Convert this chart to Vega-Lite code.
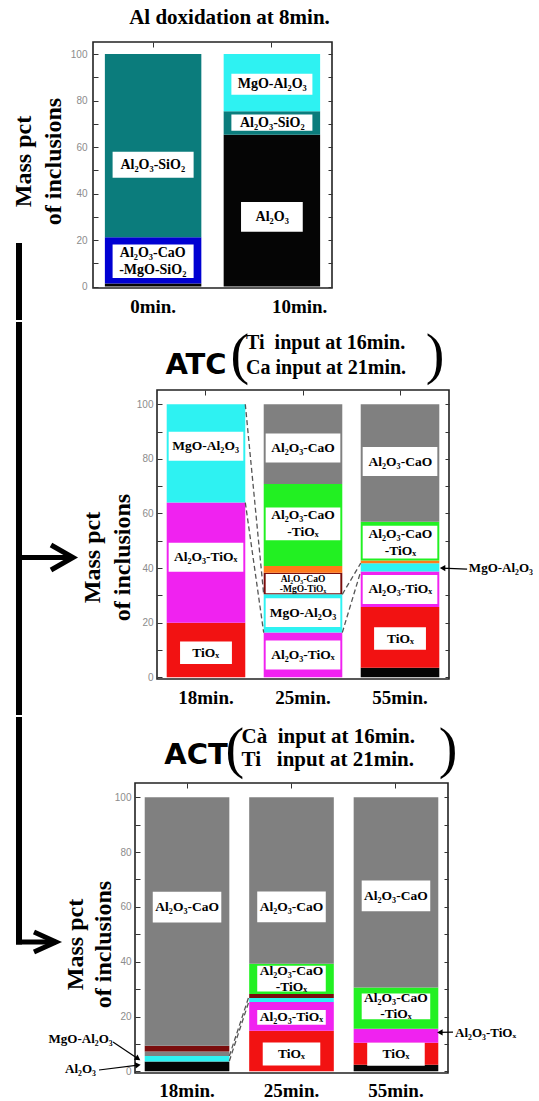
{
 "$schema": "https://vega.github.io/schema/vega-lite/v6.json",
 "padding": {"left": 9, "top": 5, "right": 0, "bottom": 0},
 "spacing": 0,
 "config": {"view": {"stroke": "#222", "strokeWidth": 1.6}},
 "data": {"values": [{}]},
 "datasets": {
  "p1_bars": [
   {"time": "0min.", "phase": "Al2O3", "lo": 0, "hi": 1.3},
   {"time": "0min.", "phase": "Al2O3-CaO-MgO-SiO2", "lo": 1.3, "hi": 21.2},
   {"time": "0min.", "phase": "Al2O3-SiO2", "lo": 21.2, "hi": 100},
   {"time": "10min.", "phase": "Al2O3", "lo": 0, "hi": 65.3},
   {"time": "10min.", "phase": "Al2O3-SiO2", "lo": 65.3, "hi": 75.4},
   {"time": "10min.", "phase": "MgO-Al2O3", "lo": 75.4, "hi": 100}
  ],
  "p1_labels": [
   {"time": "0min.", "label": "Al₂O₃-SiO₂", "y": 52.4},
   {"time": "0min.", "label": "Al₂O₃-CaO\n-MgO-SiO₂", "y": 10.9},
   {"time": "10min.", "label": "MgO-Al₂O₃", "y": 87},
   {"time": "10min.", "label": "Al₂O₃-SiO₂", "y": 70.5},
   {"time": "10min.", "label": "Al₂O₃", "y": 30}
  ],
  "p2_bars": [
   {"time": "18min.", "phase": "TiOx", "lo": 0, "hi": 20},
   {"time": "18min.", "phase": "Al2O3-TiOx", "lo": 20, "hi": 64},
   {"time": "18min.", "phase": "MgO-Al2O3", "lo": 64, "hi": 100},
   {"time": "25min.", "phase": "Al2O3-TiOx", "lo": 0, "hi": 16.4},
   {"time": "25min.", "phase": "MgO-Al2O3", "lo": 16.4, "hi": 30.4},
   {"time": "25min.", "phase": "Al2O3-CaO-MgO-TiOx", "lo": 30.4, "hi": 38.3},
   {"time": "25min.", "phase": "Other", "lo": 38.3, "hi": 40.8},
   {"time": "25min.", "phase": "Al2O3-CaO-TiOx", "lo": 40.8, "hi": 70.8},
   {"time": "25min.", "phase": "Al2O3-CaO", "lo": 70.8, "hi": 100},
   {"time": "55min.", "phase": "Al2O3", "lo": 0, "hi": 3.5},
   {"time": "55min.", "phase": "TiOx", "lo": 3.5, "hi": 25.8},
   {"time": "55min.", "phase": "Al2O3-TiOx", "lo": 25.8, "hi": 38.8},
   {"time": "55min.", "phase": "MgO-Al2O3", "lo": 38.8, "hi": 41.8},
   {"time": "55min.", "phase": "Other", "lo": 41.8, "hi": 42.8},
   {"time": "55min.", "phase": "Al2O3-CaO-TiOx", "lo": 42.8, "hi": 57},
   {"time": "55min.", "phase": "Al2O3-CaO", "lo": 57, "hi": 100}
  ],
  "p2_labels": [
   {"time": "18min.", "label": "MgO-Al₂O₃", "y": 84.6},
   {"time": "18min.", "label": "Al₂O₃-TiOₓ", "y": 44},
   {"time": "18min.", "label": "TiOₓ", "y": 9},
   {"time": "25min.", "label": "Al₂O₃-CaO", "y": 84},
   {"time": "25min.", "label": "Al₂O₃-CaO\n-TiOₓ", "y": 56.2},
   {"time": "25min.", "label": "Al₂O₃-CaO\n-MgO-TiOₓ", "y": 34.3},
   {"time": "25min.", "label": "MgO-Al₂O₃", "y": 23.7},
   {"time": "25min.", "label": "Al₂O₃-TiOₓ", "y": 8.2},
   {"time": "55min.", "label": "Al₂O₃-CaO", "y": 79},
   {"time": "55min.", "label": "Al₂O₃-CaO\n-TiOₓ", "y": 49.5},
   {"time": "55min.", "label": "Al₂O₃-TiOₓ", "y": 32.2},
   {"time": "55min.", "label": "TiOₓ", "y": 14.2}
  ],
  "p3_bars": [
   {"time": "18min.", "phase": "Al2O3", "lo": 0, "hi": 3.6},
   {"time": "18min.", "phase": "MgO-Al2O3", "lo": 3.6, "hi": 5.6},
   {"time": "18min.", "phase": "Al2O3-CaO", "lo": 5.6, "hi": 7.2},
   {"time": "18min.", "phase": "Al2O3-CaO-MgO-TiOx", "lo": 7.2, "hi": 9.3},
   {"time": "18min.", "phase": "Al2O3-CaO", "lo": 9.3, "hi": 100},
   {"time": "25min.", "phase": "TiOx", "lo": 0, "hi": 14.8},
   {"time": "25min.", "phase": "Al2O3-TiOx", "lo": 14.8, "hi": 25.3},
   {"time": "25min.", "phase": "MgO-Al2O3", "lo": 25.3, "hi": 26.8},
   {"time": "25min.", "phase": "Al2O3-CaO-MgO-TiOx", "lo": 26.8, "hi": 28.2},
   {"time": "25min.", "phase": "Al2O3-CaO-TiOx", "lo": 28.2, "hi": 39.3},
   {"time": "25min.", "phase": "Al2O3-CaO", "lo": 39.3, "hi": 100},
   {"time": "55min.", "phase": "Al2O3", "lo": 0, "hi": 2.4},
   {"time": "55min.", "phase": "TiOx", "lo": 2.4, "hi": 10.4},
   {"time": "55min.", "phase": "Al2O3-TiOx", "lo": 10.4, "hi": 15.5},
   {"time": "55min.", "phase": "Al2O3-CaO-TiOx", "lo": 15.5, "hi": 30.6},
   {"time": "55min.", "phase": "Al2O3-CaO", "lo": 30.6, "hi": 100}
  ],
  "p3_labels": [
   {"time": "18min.", "label": "Al₂O₃-CaO", "y": 59.9},
   {"time": "25min.", "label": "Al₂O₃-CaO", "y": 60},
   {"time": "25min.", "label": "Al₂O₃-CaO\n-TiOₓ", "y": 33.8},
   {"time": "25min.", "label": "Al₂O₃-TiOₓ", "y": 19.7},
   {"time": "25min.", "label": "TiOₓ", "y": 6.3},
   {"time": "55min.", "label": "Al₂O₃-CaO", "y": 64},
   {"time": "55min.", "label": "Al₂O₃-CaO\n-TiOₓ", "y": 23.7},
   {"time": "55min.", "label": "TiOₓ", "y": 6.2}
  ]
 },
 "vconcat": [
  {
   "spacing": 0,
   "hconcat": [
    {"width": 1, "height": 1, "mark": {"type": "text", "text": ""}, "view": {"stroke": null}},
    {
     "title": {"text": "Al doxidation at 8min.", "font": "Liberation Serif", "fontSize": 21, "fontWeight": "bold", "color": "#000", "anchor": "middle", "frame": "group", "dx": 17, "offset": 14},
     "width": 239, "height": 246,
     "resolve": {"scale": {"x": "independent"}, "axis": {"x": "independent", "y": "independent"}},
     "layer": [
      {
       "data": {"name": "p1_bars"},
       "mark": {"type": "bar"},
       "encoding": {
        "x": {"field": "time", "type": "nominal", "scale": {"domain": ["0min.", "10min."], "paddingInner": 0.188, "paddingOuter": 0.1},
         "axis": {"orient": "bottom", "title": null, "labelAngle": 0, "labelFont": "Liberation Serif", "labelFontSize": 19, "labelFontWeight": "bold", "labelColor": "#000", "ticks": false, "domain": false, "labelPadding": 9, "labelAlign": {"condition": {"test": "datum.value == '10min.'", "value": "left"}, "value": "center"}}},
        "y": {"field": "lo", "type": "quantitative", "scale": {"domain": [-0.6, 105.2], "nice": false, "zero": false},
         "axis": {"orient": "left", "values": [0, 10, 20, 30, 40, 50, 60, 70, 80, 90, 100], "labelExpr": "datum.value % 20 == 0 ? datum.label : ''", "title": ["Mass pct", "of inclusions"], "titleFont": "Liberation Serif", "titleFontSize": 24, "titleFontWeight": "bold", "titleColor": "#000", "titleLineHeight": 30, "titleAngle": 270, "titleBaseline": "bottom", "titleAlign": "center", "titleX": -58, "titleY": 119, "labelFont": "Liberation Sans", "labelFontSize": 10, "labelColor": "#8c8c8c", "tickSize": -5, "tickColor": "#333", "labelPadding": 11, "domain": false, "grid": false}},
        "y2": {"field": "hi"},
        "color": {"field": "phase", "type": "nominal", "legend": null, "scale": {"domain": ["Al2O3", "Al2O3-SiO2", "Al2O3-CaO-MgO-SiO2", "MgO-Al2O3", "TiOx", "Al2O3-TiOx", "Al2O3-CaO", "Al2O3-CaO-TiOx", "Al2O3-CaO-MgO-TiOx", "Other"], "range": ["#050505", "#0b7c7c", "#0000d2", "#2ef2f2", "#f21212", "#f022f0", "#808080", "#22f022", "#7a0c0c", "#ff7a1a"]}}
       }
      },
      {
       "data": {"name": "p1_labels"},
       "transform": [
        {"filter": "datum.label != 'Al₂O₃'"},
        {"calculate": "indexof(datum.label, '\\n') >= 0 ? 7.2 : (datum.label == 'MgO-Al₂O₃' ? 4.5 : (datum.time == '0min.' ? 5.6 : 3.5))", "as": "half"},
        {"calculate": "datum.y - datum.half", "as": "blo"},
        {"calculate": "datum.y + datum.half", "as": "bhi"}
       ],
       "mark": {"type": "bar", "color": "#fff", "width": {"band": 0.84}},
       "encoding": {
        "x": {"field": "time", "type": "nominal", "scale": {"domain": ["0min.", "10min."], "paddingInner": 0.188, "paddingOuter": 0.1},
         "axis": {"orient": "top", "title": null, "labels": false, "ticks": true, "tickSize": -5, "tickColor": "#333", "domain": false, "grid": false}},
        "y": {"field": "blo", "type": "quantitative", "scale": {"domain": [-0.6, 105.2], "nice": false, "zero": false},
         "axis": {"orient": "right", "title": null, "labels": false, "values": [0, 10, 20, 30, 40, 50, 60, 70, 80, 90, 100], "tickSize": -4, "tickColor": "#333", "domain": false, "grid": false}},
        "y2": {"field": "bhi"}
       }
      },
      {
       "data": {"name": "p1_labels"},
       "transform": [
        {"filter": "datum.label == 'Al₂O₃'"},
        {"calculate": "datum.y - 6.4", "as": "blo"},
        {"calculate": "datum.y + 6.4", "as": "bhi"}
       ],
       "mark": {"type": "bar", "color": "#fff", "width": {"band": 0.64}},
       "encoding": {
        "x": {"field": "time", "type": "nominal", "scale": {"domain": ["0min.", "10min."], "paddingInner": 0.188, "paddingOuter": 0.1}, "axis": null},
        "y": {"field": "blo", "type": "quantitative", "scale": {"domain": [-0.6, 105.2], "nice": false, "zero": false}, "axis": null},
        "y2": {"field": "bhi"}
       }
      },
      {
       "data": {"name": "p1_labels"},
       "transform": [{"filter": "indexof(datum.label, '\\n') < 0"}],
       "mark": {"type": "text", "font": "Liberation Serif", "fontSize": 14, "fontWeight": "bold", "color": "#000", "align": "center", "baseline": "middle"},
       "encoding": {
        "x": {"field": "time", "type": "nominal", "scale": {"domain": ["0min.", "10min."], "paddingInner": 0.188, "paddingOuter": 0.1}, "axis": null},
        "y": {"field": "y", "type": "quantitative", "scale": {"domain": [-0.6, 105.2], "nice": false, "zero": false}, "axis": null},
        "text": {"field": "label"}
       }
      },
      {
       "data": {"name": "p1_labels"},
       "transform": [{"filter": "indexof(datum.label, '\\n') >= 0"}],
       "mark": {"type": "text", "font": "Liberation Serif", "fontSize": 14, "fontWeight": "bold", "color": "#000", "align": "center", "baseline": "middle", "lineBreak": "\n", "lineHeight": 17, "dy": -8.5},
       "encoding": {
        "x": {"field": "time", "type": "nominal", "scale": {"domain": ["0min.", "10min."], "paddingInner": 0.188, "paddingOuter": 0.1}, "axis": null},
        "y": {"field": "y", "type": "quantitative", "scale": {"domain": [-0.6, 105.2], "nice": false, "zero": false}, "axis": null},
        "text": {"field": "label"}
       }
      },
      {
       "mark": {"type": "rect", "color": "#000"},
       "encoding": {
        "x": {"datum": -0.3222, "type": "quantitative", "scale": {"domain": [0, 1]}, "axis": null},
        "x2": {"datum": -0.2971},
        "y": {"datum": 18.75, "type": "quantitative", "scale": {"domain": [-0.6, 105.2], "nice": false, "zero": false}, "axis": null},
        "y2": {"datum": -14.36}
       }
      }
     ]
    }
   ]
  },
  {
   "spacing": 0,
   "hconcat": [
    {"width": 6, "height": 1, "mark": {"type": "text", "text": ""}, "view": {"stroke": null}},
    {
     "width": 292, "height": 289,
     "resolve": {"scale": {"x": "independent"}, "axis": {"x": "independent", "y": "independent"}},
     "layer": [
      {
       "data": {"name": "p2_bars"},
       "mark": {"type": "bar"},
       "encoding": {
        "x": {"field": "time", "type": "nominal", "scale": {"domain": ["18min.", "25min.", "55min."], "paddingInner": 0.19, "paddingOuter": 0.1},
         "axis": {"orient": "bottom", "title": null, "labelAngle": 0, "labelFont": "Liberation Serif", "labelFontSize": 19, "labelFontWeight": "bold", "labelColor": "#000", "ticks": false, "domain": false, "labelPadding": 9}},
        "y": {"field": "lo", "type": "quantitative", "scale": {"domain": [-0.6, 105.2], "nice": false, "zero": false},
         "axis": {"orient": "left", "values": [0, 10, 20, 30, 40, 50, 60, 70, 80, 90, 100], "labelExpr": "datum.value % 20 == 0 ? datum.label : ''", "title": ["Mass pct", "of inclusions"], "titleFont": "Liberation Serif", "titleFontSize": 24, "titleFontWeight": "bold", "titleColor": "#000", "titleLineHeight": 30, "titleAngle": 270, "titleBaseline": "bottom", "titleAlign": "center", "titleX": -53, "titleY": 167, "labelFont": "Liberation Sans", "labelFontSize": 10, "labelColor": "#8c8c8c", "tickSize": -5, "tickColor": "#333", "labelPadding": 9, "domain": false, "grid": false}},
        "y2": {"field": "hi"},
        "color": {"field": "phase", "type": "nominal", "legend": null, "scale": {"domain": ["Al2O3", "Al2O3-SiO2", "Al2O3-CaO-MgO-SiO2", "MgO-Al2O3", "TiOx", "Al2O3-TiOx", "Al2O3-CaO", "Al2O3-CaO-TiOx", "Al2O3-CaO-MgO-TiOx", "Other"], "range": ["#050505", "#0b7c7c", "#0000d2", "#2ef2f2", "#f21212", "#f022f0", "#808080", "#22f022", "#7a0c0c", "#ff7a1a"]}}
       }
      },
      {
       "data": {"name": "p2_labels"},
       "transform": [
        {"filter": "datum.label != 'TiOₓ'"},
        {"calculate": "datum.label == 'Al₂O₃-CaO\\n-MgO-TiOₓ' ? 3.5 : (indexof(datum.label, '\\n') >= 0 ? 6.0 : 5.3)", "as": "half"},
        {"calculate": "datum.y - datum.half", "as": "blo"},
        {"calculate": "datum.y + datum.half", "as": "bhi"}
       ],
       "mark": {"type": "bar", "color": "#fff", "width": {"band": 0.95}},
       "encoding": {
        "x": {"field": "time", "type": "nominal", "scale": {"domain": ["18min.", "25min.", "55min."], "paddingInner": 0.19, "paddingOuter": 0.1},
         "axis": {"orient": "top", "title": null, "labels": false, "ticks": true, "tickSize": -5, "tickColor": "#333", "domain": false, "grid": false}},
        "y": {"field": "blo", "type": "quantitative", "scale": {"domain": [-0.6, 105.2], "nice": false, "zero": false},
         "axis": {"orient": "right", "title": null, "labels": false, "values": [0, 10, 20, 30, 40, 50, 60, 70, 80, 90, 100], "tickSize": -4, "tickColor": "#333", "domain": false, "grid": false}},
        "y2": {"field": "bhi"}
       }
      },
      {
       "data": {"name": "p2_labels"},
       "transform": [
        {"filter": "datum.label == 'TiOₓ'"},
        {"calculate": "datum.y - 4.1", "as": "blo"},
        {"calculate": "datum.y + 4.1", "as": "bhi"}
       ],
       "mark": {"type": "bar", "color": "#fff", "width": {"band": 0.66}},
       "encoding": {
        "x": {"field": "time", "type": "nominal", "scale": {"domain": ["18min.", "25min.", "55min."], "paddingInner": 0.19, "paddingOuter": 0.1}, "axis": null},
        "y": {"field": "blo", "type": "quantitative", "scale": {"domain": [-0.6, 105.2], "nice": false, "zero": false}, "axis": null},
        "y2": {"field": "bhi"}
       }
      },
      {
       "data": {"name": "p2_labels"},
       "transform": [{"filter": "indexof(datum.label, '\\n') < 0"}],
       "mark": {"type": "text", "font": "Liberation Serif", "fontSize": 13.5, "fontWeight": "bold", "color": "#000", "align": "center", "baseline": "middle"},
       "encoding": {
        "x": {"field": "time", "type": "nominal", "scale": {"domain": ["18min.", "25min.", "55min."], "paddingInner": 0.19, "paddingOuter": 0.1}, "axis": null},
        "y": {"field": "y", "type": "quantitative", "scale": {"domain": [-0.6, 105.2], "nice": false, "zero": false}, "axis": null},
        "text": {"field": "label"}
       }
      },
      {
       "data": {"name": "p2_labels"},
       "transform": [{"filter": "indexof(datum.label, '\\n') >= 0 && datum.label != 'Al₂O₃-CaO\\n-MgO-TiOₓ'"}],
       "mark": {"type": "text", "font": "Liberation Serif", "fontSize": 13.5, "fontWeight": "bold", "color": "#000", "align": "center", "baseline": "middle", "lineBreak": "\n", "lineHeight": 17, "dy": -8.5},
       "encoding": {
        "x": {"field": "time", "type": "nominal", "scale": {"domain": ["18min.", "25min.", "55min."], "paddingInner": 0.19, "paddingOuter": 0.1}, "axis": null},
        "y": {"field": "y", "type": "quantitative", "scale": {"domain": [-0.6, 105.2], "nice": false, "zero": false}, "axis": null},
        "text": {"field": "label"}
       }
      },
      {
       "data": {"name": "p2_labels"},
       "transform": [{"filter": "datum.label == 'Al₂O₃-CaO\\n-MgO-TiOₓ'"}],
       "mark": {"type": "text", "font": "Liberation Serif", "fontSize": 9.5, "fontWeight": "bold", "color": "#000", "align": "center", "baseline": "middle", "lineBreak": "\n", "lineHeight": 10, "dy": -5},
       "encoding": {
        "x": {"field": "time", "type": "nominal", "scale": {"domain": ["18min.", "25min.", "55min."], "paddingInner": 0.19, "paddingOuter": 0.1}, "axis": null},
        "y": {"field": "y", "type": "quantitative", "scale": {"domain": [-0.6, 105.2], "nice": false, "zero": false}, "axis": null},
        "text": {"field": "label"}
       }
      },
      {
       "mark": {"type": "rect", "color": "#000"},
       "encoding": {
        "x": {"datum": -0.4829, "type": "quantitative", "scale": {"domain": [0, 1]}, "axis": null},
        "x2": {"datum": -0.4623},
        "y": {"datum": 130.09, "type": "quantitative", "scale": {"domain": [-0.6, 105.2], "nice": false, "zero": false}, "axis": null},
        "y2": {"datum": -13.78}
       }
      },
      {
       "mark": {"type": "rect", "color": "#000"},
       "encoding": {
        "x": {"datum": -0.4829, "type": "quantitative", "scale": {"domain": [0, 1]}, "axis": null},
        "x2": {"datum": -0.2877},
        "y": {"datum": 44.8, "type": "quantitative", "scale": {"domain": [-0.6, 105.2], "nice": false, "zero": false}, "axis": null},
        "y2": {"datum": 42.97}
       }
      },
      {
       "mark": {"type": "point", "shape": "M-1.76,-1L0,0L-1.76,1", "size": 625, "filled": false, "stroke": "#000", "strokeWidth": 5, "opacity": 1},
       "encoding": {
        "x": {"datum": -0.2877, "type": "quantitative", "scale": {"domain": [0, 1]}, "axis": null},
        "y": {"datum": 43.88, "type": "quantitative", "scale": {"domain": [-0.6, 105.2], "nice": false, "zero": false}, "axis": null}
       }
      },
      {
       "data": {"values": [
        {"x": 0.3024, "y": 100, "x2": 0.3654, "y2": 30.4},
        {"x": 0.3024, "y": 64, "x2": 0.3654, "y2": 16.4},
        {"x": 0.6346, "y": 30.4, "x2": 0.6977, "y2": 41.8},
        {"x": 0.6346, "y": 16.4, "x2": 0.6977, "y2": 38.8}
       ]},
       "mark": {"type": "rule", "strokeDash": [5, 3], "color": "#555", "strokeWidth": 1.3},
       "encoding": {
        "x": {"field": "x", "type": "quantitative", "scale": {"domain": [0, 1]}, "axis": null},
        "x2": {"field": "x2"},
        "y": {"field": "y", "type": "quantitative", "scale": {"domain": [-0.6, 105.2], "nice": false, "zero": false}, "axis": null},
        "y2": {"field": "y2"}
       }
      },
      {
       "mark": {"type": "rule", "color": "#000", "strokeWidth": 1.2},
       "encoding": {
        "x": {"datum": 1.062, "type": "quantitative", "scale": {"domain": [0, 1]}, "axis": null},
        "x2": {"datum": 0.975},
        "y": {"datum": 39.6, "type": "quantitative", "scale": {"domain": [-0.6, 105.2], "nice": false, "zero": false}, "axis": null},
        "y2": {"datum": 40}
       }
      },
      {
       "mark": {"type": "point", "shape": "triangle-left", "size": 40, "filled": true, "color": "#000", "opacity": 1},
       "encoding": {
        "x": {"datum": 0.978, "type": "quantitative", "scale": {"domain": [0, 1]}, "axis": null},
        "y": {"datum": 40, "type": "quantitative", "scale": {"domain": [-0.6, 105.2], "nice": false, "zero": false}, "axis": null}
       }
      },
      {
       "mark": {"type": "text", "text": "MgO-Al₂O₃", "font": "Liberation Serif", "fontSize": 13, "fontWeight": "bold", "color": "#000", "align": "left", "baseline": "middle"},
       "encoding": {
        "x": {"datum": 1.068, "type": "quantitative", "scale": {"domain": [0, 1]}, "axis": null},
        "y": {"datum": 40, "type": "quantitative", "scale": {"domain": [-0.6, 105.2], "nice": false, "zero": false}, "axis": null}
       }
      },
      {
       "mark": {"type": "text", "text": "ATC", "font": "DejaVu Sans", "fontSize": 29, "fontWeight": "bold", "color": "#000", "align": "center", "baseline": "middle"},
       "encoding": {
        "x": {"datum": 0.1336, "type": "quantitative", "scale": {"domain": [0, 1]}, "axis": null},
        "y": {"datum": 114.4, "type": "quantitative", "scale": {"domain": [-0.6, 105.2], "nice": false, "zero": false}, "axis": null}
       }
      },
      {
       "data": {"values": [{"x": 0.284, "p": "("}, {"x": 0.952, "p": ")"}]},
       "mark": {"type": "text", "font": "Liberation Serif", "fontSize": 56, "color": "#000", "align": "center", "baseline": "middle"},
       "encoding": {
        "x": {"field": "x", "type": "quantitative", "scale": {"domain": [0, 1]}, "axis": null},
        "y": {"datum": 117.8, "type": "quantitative", "scale": {"domain": [-0.6, 105.2], "nice": false, "zero": false}, "axis": null},
        "text": {"field": "p"}
       }
      },
      {
       "mark": {"type": "text", "text": "Ti\u00a0 input at 16min.\nCa input at 21min.", "font": "Liberation Serif", "fontSize": 20, "fontWeight": "bold", "color": "#000", "align": "left", "baseline": "middle", "lineBreak": "\n", "lineHeight": 25},
       "encoding": {
        "x": {"datum": 0.305, "type": "quantitative", "scale": {"domain": [0, 1]}, "axis": null},
        "y": {"datum": 122.4, "type": "quantitative", "scale": {"domain": [-0.6, 105.2], "nice": false, "zero": false}, "axis": null}
       }
      }
     ]
    }
   ]
  },
  {
   "spacing": 0,
   "hconcat": [
    {"width": 6, "height": 1, "mark": {"type": "text", "text": ""}, "view": {"stroke": null}},
    {
     "width": 313, "height": 290,
     "resolve": {"scale": {"x": "independent"}, "axis": {"x": "independent", "y": "independent"}},
     "layer": [
      {
       "data": {"name": "p3_bars"},
       "mark": {"type": "bar"},
       "encoding": {
        "x": {"field": "time", "type": "nominal", "scale": {"domain": ["18min.", "25min.", "55min."], "paddingInner": 0.19, "paddingOuter": 0.093},
         "axis": {"orient": "bottom", "title": null, "labelAngle": 0, "labelFont": "Liberation Serif", "labelFontSize": 19, "labelFontWeight": "bold", "labelColor": "#000", "ticks": false, "domain": false, "labelPadding": 8}},
        "y": {"field": "lo", "type": "quantitative", "scale": {"domain": [-0.6, 105.2], "nice": false, "zero": false},
         "axis": {"orient": "left", "values": [0, 10, 20, 30, 40, 50, 60, 70, 80, 90, 100], "labelExpr": "datum.value % 20 == 0 ? datum.label : ''", "title": ["Mass pct", "of inclusions"], "titleFont": "Liberation Serif", "titleFontSize": 24, "titleFontWeight": "bold", "titleColor": "#000", "titleLineHeight": 28, "titleAngle": 270, "titleBaseline": "bottom", "titleAlign": "center", "titleX": -48, "titleY": 161, "labelFont": "Liberation Sans", "labelFontSize": 10, "labelColor": "#8c8c8c", "tickSize": -5, "tickColor": "#333", "labelPadding": 9, "domain": false, "grid": false}},
        "y2": {"field": "hi"},
        "color": {"field": "phase", "type": "nominal", "legend": null, "scale": {"domain": ["Al2O3", "Al2O3-SiO2", "Al2O3-CaO-MgO-SiO2", "MgO-Al2O3", "TiOx", "Al2O3-TiOx", "Al2O3-CaO", "Al2O3-CaO-TiOx", "Al2O3-CaO-MgO-TiOx", "Other"], "range": ["#050505", "#0b7c7c", "#0000d2", "#2ef2f2", "#f21212", "#f022f0", "#808080", "#22f022", "#7a0c0c", "#ff7a1a"]}}
       }
      },
      {
       "data": {"name": "p3_labels"},
       "transform": [
        {"filter": "datum.label != 'TiOₓ'"},
        {"calculate": "datum.label == 'Al₂O₃-CaO' ? 5.6 : (indexof(datum.label, '\\n') >= 0 ? 4.7 : 2.7)", "as": "half"},
        {"calculate": "datum.y - datum.half", "as": "blo"},
        {"calculate": "datum.y + datum.half", "as": "bhi"}
       ],
       "mark": {"type": "bar", "color": "#fff", "width": {"band": 0.81}},
       "encoding": {
        "x": {"field": "time", "type": "nominal", "scale": {"domain": ["18min.", "25min.", "55min."], "paddingInner": 0.19, "paddingOuter": 0.093},
         "axis": {"orient": "top", "title": null, "labels": false, "ticks": true, "tickSize": -5, "tickColor": "#333", "domain": false, "grid": false}},
        "y": {"field": "blo", "type": "quantitative", "scale": {"domain": [-0.6, 105.2], "nice": false, "zero": false},
         "axis": {"orient": "right", "title": null, "labels": false, "values": [0, 10, 20, 30, 40, 50, 60, 70, 80, 90, 100], "tickSize": -4, "tickColor": "#333", "domain": false, "grid": false}},
        "y2": {"field": "bhi"}
       }
      },
      {
       "data": {"name": "p3_labels"},
       "transform": [
        {"filter": "datum.label == 'TiOₓ'"},
        {"calculate": "datum.y - 4.2", "as": "blo"},
        {"calculate": "datum.y + 4.2", "as": "bhi"}
       ],
       "mark": {"type": "bar", "color": "#fff", "width": {"band": 0.68}},
       "encoding": {
        "x": {"field": "time", "type": "nominal", "scale": {"domain": ["18min.", "25min.", "55min."], "paddingInner": 0.19, "paddingOuter": 0.093}, "axis": null},
        "y": {"field": "blo", "type": "quantitative", "scale": {"domain": [-0.6, 105.2], "nice": false, "zero": false}, "axis": null},
        "y2": {"field": "bhi"}
       }
      },
      {
       "data": {"name": "p3_labels"},
       "transform": [{"filter": "indexof(datum.label, '\\n') < 0"}],
       "mark": {"type": "text", "font": "Liberation Serif", "fontSize": 13.5, "fontWeight": "bold", "color": "#000", "align": "center", "baseline": "middle"},
       "encoding": {
        "x": {"field": "time", "type": "nominal", "scale": {"domain": ["18min.", "25min.", "55min."], "paddingInner": 0.19, "paddingOuter": 0.093}, "axis": null},
        "y": {"field": "y", "type": "quantitative", "scale": {"domain": [-0.6, 105.2], "nice": false, "zero": false}, "axis": null},
        "text": {"field": "label"}
       }
      },
      {
       "data": {"name": "p3_labels"},
       "transform": [{"filter": "indexof(datum.label, '\\n') >= 0"}],
       "mark": {"type": "text", "font": "Liberation Serif", "fontSize": 13.5, "fontWeight": "bold", "color": "#000", "align": "center", "baseline": "middle", "lineBreak": "\n", "lineHeight": 16, "dy": -8},
       "encoding": {
        "x": {"field": "time", "type": "nominal", "scale": {"domain": ["18min.", "25min.", "55min."], "paddingInner": 0.19, "paddingOuter": 0.093}, "axis": null},
        "y": {"field": "y", "type": "quantitative", "scale": {"domain": [-0.6, 105.2], "nice": false, "zero": false}, "axis": null},
        "text": {"field": "label"}
       }
      },
      {
       "mark": {"type": "rect", "color": "#000"},
       "encoding": {
        "x": {"datum": -0.3802, "type": "quantitative", "scale": {"domain": [0, 1]}, "axis": null},
        "x2": {"datum": -0.361},
        "y": {"datum": 129.28, "type": "quantitative", "scale": {"domain": [-0.6, 105.2], "nice": false, "zero": false}, "axis": null},
        "y2": {"datum": 46.28}
       }
      },
      {
       "mark": {"type": "rect", "color": "#000"},
       "encoding": {
        "x": {"datum": -0.3802, "type": "quantitative", "scale": {"domain": [0, 1]}, "axis": null},
        "x2": {"datum": -0.2524},
        "y": {"datum": 48.1, "type": "quantitative", "scale": {"domain": [-0.6, 105.2], "nice": false, "zero": false}, "axis": null},
        "y2": {"datum": 46.28}
       }
      },
      {
       "mark": {"type": "point", "shape": "M-2.2,-1L0,0L-2.2,1", "size": 400, "filled": false, "stroke": "#000", "strokeWidth": 5, "opacity": 1},
       "encoding": {
        "x": {"datum": -0.2524, "type": "quantitative", "scale": {"domain": [0, 1]}, "axis": null},
        "y": {"datum": 47.19, "type": "quantitative", "scale": {"domain": [-0.6, 105.2], "nice": false, "zero": false}, "axis": null}
       }
      },
      {
       "data": {"values": [
        {"x": 0.3014, "y": 5.6, "x2": 0.3648, "y2": 27.6},
        {"x": 0.3014, "y": 3.8, "x2": 0.3648, "y2": 25.8}
       ]},
       "mark": {"type": "rule", "strokeDash": [5, 3], "color": "#555", "strokeWidth": 1.3},
       "encoding": {
        "x": {"field": "x", "type": "quantitative", "scale": {"domain": [0, 1]}, "axis": null},
        "x2": {"field": "x2"},
        "y": {"field": "y", "type": "quantitative", "scale": {"domain": [-0.6, 105.2], "nice": false, "zero": false}, "axis": null},
        "y2": {"field": "y2"}
       }
      },
      {
       "data": {"values": [
        {"x": -0.0703, "y": 10.7, "x2": 0.0096, "y2": 4.6},
        {"x": -0.115, "y": 0.5, "x2": 0.0096, "y2": 2.3},
        {"x": 1.016, "y": 14.3, "x2": 0.972, "y2": 14.2}
       ]},
       "mark": {"type": "rule", "color": "#000", "strokeWidth": 1.2},
       "encoding": {
        "x": {"field": "x", "type": "quantitative", "scale": {"domain": [0, 1]}, "axis": null},
        "x2": {"field": "x2"},
        "y": {"field": "y", "type": "quantitative", "scale": {"domain": [-0.6, 105.2], "nice": false, "zero": false}, "axis": null},
        "y2": {"field": "y2"}
       }
      },
      {
       "mark": {"type": "point", "shape": "triangle-right", "angle": 34, "size": 40, "filled": true, "color": "#000", "opacity": 1},
       "encoding": {
        "x": {"datum": 0.0096, "type": "quantitative", "scale": {"domain": [0, 1]}, "axis": null},
        "y": {"datum": 4.6, "type": "quantitative", "scale": {"domain": [-0.6, 105.2], "nice": false, "zero": false}, "axis": null}
       }
      },
      {
       "mark": {"type": "point", "shape": "triangle-right", "angle": -8, "size": 40, "filled": true, "color": "#000", "opacity": 1},
       "encoding": {
        "x": {"datum": 0.0096, "type": "quantitative", "scale": {"domain": [0, 1]}, "axis": null},
        "y": {"datum": 2.3, "type": "quantitative", "scale": {"domain": [-0.6, 105.2], "nice": false, "zero": false}, "axis": null}
       }
      },
      {
       "mark": {"type": "point", "shape": "triangle-left", "size": 40, "filled": true, "color": "#000", "opacity": 1},
       "encoding": {
        "x": {"datum": 0.974, "type": "quantitative", "scale": {"domain": [0, 1]}, "axis": null},
        "y": {"datum": 14.2, "type": "quantitative", "scale": {"domain": [-0.6, 105.2], "nice": false, "zero": false}, "axis": null}
       }
      },
      {
       "data": {"values": [{"x": -0.0712, "y": 11.9, "t": "MgO-Al₂O₃"}, {"x": -0.1246, "y": 1.0, "t": "Al₂O₃"}]},
       "mark": {"type": "text", "font": "Liberation Serif", "fontSize": 13, "fontWeight": "bold", "color": "#000", "align": "right", "baseline": "middle"},
       "encoding": {
        "x": {"field": "x", "type": "quantitative", "scale": {"domain": [0, 1]}, "axis": null},
        "y": {"field": "y", "type": "quantitative", "scale": {"domain": [-0.6, 105.2], "nice": false, "zero": false}, "axis": null},
        "text": {"field": "t"}
       }
      },
      {
       "mark": {"type": "text", "text": "Al₂O₃-TiOₓ", "font": "Liberation Serif", "fontSize": 13, "fontWeight": "bold", "color": "#000", "align": "left", "baseline": "middle"},
       "encoding": {
        "x": {"datum": 1.0224, "type": "quantitative", "scale": {"domain": [0, 1]}, "axis": null},
        "y": {"datum": 14.1, "type": "quantitative", "scale": {"domain": [-0.6, 105.2], "nice": false, "zero": false}, "axis": null}
       }
      },
      {
       "mark": {"type": "text", "text": "ACT", "font": "DejaVu Sans", "fontSize": 29, "fontWeight": "bold", "color": "#000", "align": "center", "baseline": "middle"},
       "encoding": {
        "x": {"datum": 0.1949, "type": "quantitative", "scale": {"domain": [0, 1]}, "axis": null},
        "y": {"datum": 115.3, "type": "quantitative", "scale": {"domain": [-0.6, 105.2], "nice": false, "zero": false}, "axis": null}
       }
      },
      {
       "data": {"values": [{"x": 0.3188, "p": "("}, {"x": 1.0, "p": ")"}]},
       "mark": {"type": "text", "font": "Liberation Serif", "fontSize": 56, "color": "#000", "align": "center", "baseline": "middle"},
       "encoding": {
        "x": {"field": "x", "type": "quantitative", "scale": {"domain": [0, 1]}, "axis": null},
        "y": {"datum": 117.4, "type": "quantitative", "scale": {"domain": [-0.6, 105.2], "nice": false, "zero": false}, "axis": null},
        "text": {"field": "p"}
       }
      },
      {
       "mark": {"type": "text", "text": "Cà\u00a0 input at 16min.\nTi\u00a0\u00a0 input at 21min.", "font": "Liberation Serif", "fontSize": 21, "fontWeight": "bold", "color": "#000", "align": "left", "baseline": "middle", "lineBreak": "\n", "lineHeight": 23},
       "encoding": {
        "x": {"datum": 0.3406, "type": "quantitative", "scale": {"domain": [0, 1]}, "axis": null},
        "y": {"datum": 121.8, "type": "quantitative", "scale": {"domain": [-0.6, 105.2], "nice": false, "zero": false}, "axis": null}
       }
      }
     ]
    }
   ]
  }
 ]
}
